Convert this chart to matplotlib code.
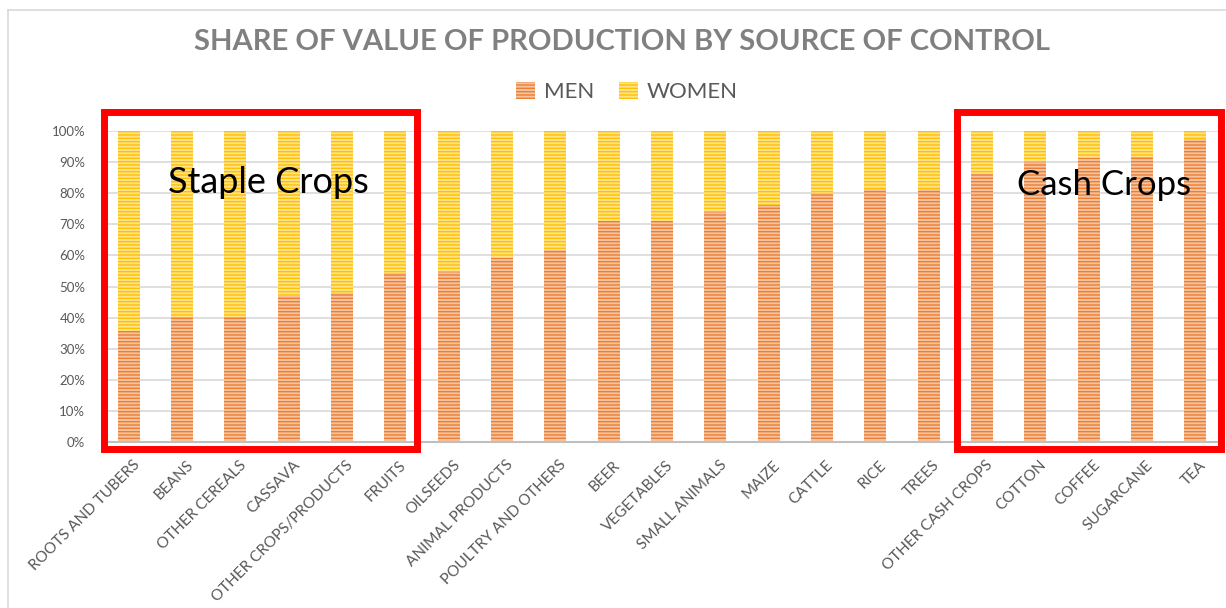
import matplotlib
matplotlib.use("Agg")
import matplotlib.pyplot as plt
from matplotlib.patches import Rectangle, Patch
from matplotlib.lines import Line2D
from matplotlib.transforms import ScaledTranslation
import numpy as np

# categories and share of value controlled by men (%)
categories = ['ROOTS AND TUBERS', 'BEANS', 'OTHER CEREALS', 'CASSAVA',
              'OTHER CROPS/PRODUCTS', 'FRUITS', 'OILSEEDS', 'ANIMAL PRODUCTS',
              'POULTRY AND OTHERS', 'BEER', 'VEGETABLES', 'SMALL ANIMALS',
              'MAIZE', 'CATTLE', 'RICE', 'TREES', 'OTHER CASH CROPS',
              'COTTON', 'COFFEE', 'SUGARCANE', 'TEA']
men = [35.6, 40.2, 40.1, 47.1, 47.9, 54.3, 54.7, 59.1, 61.7, 71.0, 71.0,
       74.1, 76.3, 80.2, 81.3, 81.3, 86.1, 90.0, 91.3, 91.8, 97.4]
women = [100 - m for m in men]

yticks = [0, 10, 20, 30, 40, 50, 60, 70, 80, 90, 100]
ytick_labels = [f'{t}%' for t in yticks]

# highlighted groups (first/last category index)
staple_group = (0, 5)
cash_group = (16, 20)

plt.rcParams['font.family'] = ['Lato', 'DejaVu Sans']
plt.rcParams['hatch.linewidth'] = 1.0

MEN_FACE, MEN_HATCH = '#F6C3A0', '#ED7D31'
WOMEN_FACE, WOMEN_HATCH = '#FFE38A', '#FFC000'
TEXT_GRAY = '#595959'

fig = plt.figure(figsize=(12.26, 6.08), dpi=100)
ax = fig.add_axes([0.0832, 0.2730, 0.9135, 0.5115])

x = np.arange(len(categories))
ax.bar(x, men, width=0.41, color=MEN_FACE, edgecolor=MEN_HATCH,
       hatch='-----', linewidth=0, zorder=2)
ax.bar(x, women, width=0.41, bottom=men, color=WOMEN_FACE,
       edgecolor=WOMEN_HATCH, hatch='-----', linewidth=0, zorder=2)

ax.set_xlim(-0.5, len(categories) - 0.5)
ax.set_ylim(0, 100)
ax.set_yticks(yticks)
ax.set_yticklabels(ytick_labels, fontsize=9.5, color=TEXT_GRAY)
ax.yaxis.grid(True, color='#d9d9d9', linewidth=1.2, zorder=0)
ax.set_axisbelow(True)
ax.set_xticks(x)
ax.set_xticklabels(categories, rotation=45, ha='right', va='center',
                   rotation_mode='anchor', fontsize=11, color=TEXT_GRAY)
ax.tick_params(axis='x', length=0, pad=15)
ax.tick_params(axis='y', length=0, pad=12)
shift = ScaledTranslation(0.09, 0, fig.dpi_scale_trans)
for lbl in ax.get_xticklabels():
    lbl.set_transform(lbl.get_transform() + shift)
for s in ['top', 'right', 'left']:
    ax.spines[s].set_visible(False)
ax.spines['bottom'].set_color('#bfbfbf')
ax.spines['bottom'].set_linewidth(1.5)

# red boxes around the two groups
for first, last in [staple_group, cash_group]:
    x0 = first - 0.47
    x1 = last + 0.40 if last == staple_group[1] else last + 0.49
    rect = Rectangle((x0, -2.4), x1 - x0, 108.4, fill=False,
                     edgecolor='red', linewidth=5, clip_on=False, zorder=5)
    ax.add_patch(rect)

ax.text(0.74, 83.3, 'Staple Crops', fontsize=26, color='black',
        ha='left', va='center', zorder=6)
ax.text(16.66, 82.6, 'Cash Crops', fontsize=25, color='black',
        ha='left', va='center', zorder=6)

fig.text(0.507, 1 - 42 / 608, 'SHARE OF VALUE OF PRODUCTION BY SOURCE OF CONTROL',
         fontsize=21, fontweight='bold', color='#808080', ha='center', va='center')

handles = [Patch(facecolor=MEN_FACE, edgecolor=MEN_HATCH, hatch='-----', linewidth=0, label='MEN'),
           Patch(facecolor=WOMEN_FACE, edgecolor=WOMEN_HATCH, hatch='-----', linewidth=0, label='WOMEN')]
fig.legend(handles=handles, loc='center', bbox_to_anchor=(627 / 1226, 1 - 92 / 608),
           ncol=2, frameon=False, fontsize=16, labelcolor=TEXT_GRAY,
           handlelength=0.85, handleheight=0.85, handletextpad=0.4, columnspacing=1.1)

# chart area border (left and top edges visible)
fig.add_artist(Line2D([7.5 / 1226, 7.5 / 1226], [0, 1 - 10 / 608],
                      transform=fig.transFigure, color='#d9d9d9', linewidth=1.2))
fig.add_artist(Line2D([7.5 / 1226, 1], [1 - 10 / 608, 1 - 10 / 608],
                      transform=fig.transFigure, color='#d9d9d9', linewidth=1.2))

fig.savefig('out.png', dpi=100, facecolor='white')
